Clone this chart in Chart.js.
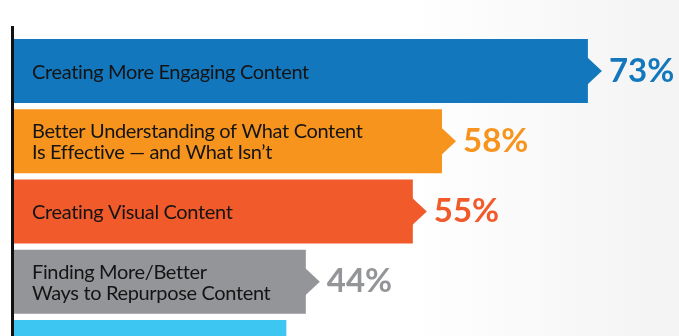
<!DOCTYPE html>
<html lang="en">
<head>
    <meta charset="UTF-8">
    <title>Content priorities</title>
    <script src="https://cdn.jsdelivr.net/npm/chart.js"></script>
</head>
<style>
    body{
        margin: 0;
        background: #fff;
    }
    .frame{
        position: relative;
        width: 679px;
        height: 336px;
        overflow: hidden;
        background: linear-gradient(90deg, #ffffff 0%, #ffffff 60%, #f3f3f3 100%);
    }
    .chartBox{
        position: absolute;
        left: 0;
        top: 0;
        width: 679px;
        height: 400px;
    }
</style>
<body>
<div class="frame">
    <div class="chartBox">
        <canvas id="priorities"></canvas>
    </div>
</div>
<script>
    // values (last bar is cut off at the bottom)
    const categories = [
        ['Creating More Engaging Content'],
        ['Better Understanding of What Content', 'Is Effective \u2014 and What Isn\u2019t'],
        ['Creating Visual Content'],
        ['Finding More/Better', 'Ways to Repurpose Content'],
        ['']
    ];
    const percents = [73, 58, 55, 44, 42];
    const barColors = ['#1277bc', '#f7941e', '#f15a2b', '#939598', '#3ec6f2'];

    // axis line + arrows + labels
    const decorations = {
        id: 'decorations',
        beforeDatasetsDraw(chart) {
            const ctx = chart.ctx;
            const area = chart.chartArea;
            ctx.save();
            ctx.fillStyle = '#111';
            ctx.fillRect(area.left - 3, area.top - 10, 3, area.bottom - area.top + 10);
            ctx.restore();
        },
        afterDatasetsDraw(chart) {
            const ctx = chart.ctx;
            const left = chart.chartArea.left;
            const meta = chart.getDatasetMeta(0);
            ctx.save();
            meta.data.forEach((bar, i) => {
                const col = barColors[i];
                // arrow head
                ctx.fillStyle = col;
                ctx.beginPath();
                ctx.moveTo(bar.x - 1, bar.y - 14);
                ctx.lineTo(bar.x + 14, bar.y);
                ctx.lineTo(bar.x - 1, bar.y + 14);
                ctx.closePath();
                ctx.fill();
                // value
                ctx.font = 'bold 33px Lato';
                ctx.letterSpacing = '0px';
                ctx.textBaseline = 'middle';
                ctx.textAlign = 'left';
                ctx.fillText(percents[i] + '%', bar.x + 21, bar.y);
                // category text
                const lines = categories[i];
                ctx.fillStyle = '#141414';
                ctx.font = '20px Lato';
                ctx.letterSpacing = '-0.35px';
                const lh = 21;
                lines.forEach((t, k) => {
                    const yy = bar.y + (k - (lines.length - 1) / 2) * lh + 1;
                    ctx.fillText(t, left + 18, yy);
                });
            });
            ctx.restore();
        }
    };

    new Chart(document.getElementById('priorities'), {
        type: 'bar',
        data: {
            labels: categories,
            datasets: [{
                data: percents,
                backgroundColor: barColors,
                borderWidth: 0,
                barPercentage: 0.912,
                categoryPercentage: 1
            }]
        },
        options: {
            indexAxis: 'y',
            maintainAspectRatio: false,
            animation: false,
            layout: {
                padding: { left: 14, right: 23, top: 36, bottom: 13 }
            },
            plugins: {
                legend: { display: false },
                tooltip: { enabled: false }
            },
            scales: {
                x: { display: false, min: 14, max: 80 },
                y: { display: false }
            }
        },
        plugins: [decorations]
    });
</script>
</body>
</html>
